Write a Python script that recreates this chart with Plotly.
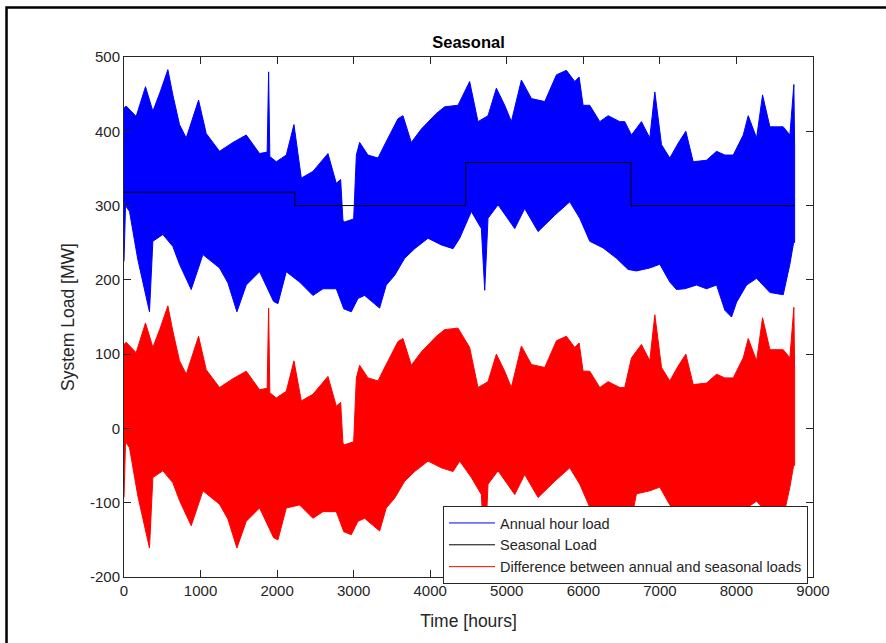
import numpy as np
import plotly.graph_objects as go

# Annual hourly load, upper envelope (hour, MW)
upper_hours = [0, 28, 159, 281, 377, 473, 573, 638, 725, 813, 974, 1074, 1248, 1423, 1597,
               1771, 1870, 1889, 1905, 1989, 2120, 2220, 2316, 2468, 2664, 2773, 2830, 2860,
               2882, 3000, 3035, 3078, 3187, 3318, 3400, 3579, 3644, 3753, 3884, 4080, 4189,
               4363, 4515, 4624, 4755, 4864, 4973, 5060, 5191, 5322, 5496, 5649, 5779, 5888,
               5945, 5997, 6084, 6215, 6324, 6476, 6541, 6629, 6759, 6868, 6934, 7021, 7130,
               7239, 7339, 7435, 7609, 7740, 7849, 7958, 8089, 8154, 8263, 8341, 8437, 8611,
               8698, 8750, 8760]
upper_vals = [431, 434, 420, 460, 427, 453, 483, 449, 409, 391, 442, 397, 373, 385, 395,
              370, 372, 480, 366, 359, 368, 409, 337, 346, 370, 330, 335, 280,
              278, 282, 368, 385, 368, 364, 381, 417, 421, 385, 403, 424, 433,
              435, 467, 413, 421, 458, 435, 413, 469, 444, 440, 476, 482, 467,
              473, 435, 435, 413, 421, 413, 413, 395, 413, 391, 453, 382, 364,
              384, 400, 359, 361, 373, 368, 368, 395, 421, 391, 449, 406, 406,
              395, 463, 380]

# Annual hourly load, lower envelope (hour, MW)
lower_hours = [0, 20, 72, 181, 333, 377, 508, 638, 725, 878, 1031, 1248, 1357, 1475, 1597,
               1771, 1954, 2011, 2120, 2294, 2468, 2599, 2773, 2871, 2969, 3056, 3143, 3339,
               3426, 3535, 3666, 3797, 3971, 4146, 4298, 4385, 4537, 4668, 4712, 4755, 4886,
               5104, 5234, 5409, 5627, 5823, 5953, 6084, 6258, 6433, 6585, 6694, 6868, 6999,
               7130, 7217, 7326, 7478, 7609, 7740, 7849, 7936, 8002, 8132, 8263, 8437, 8611,
               8698, 8750, 8760]
lower_vals = [225, 300, 292, 227, 157, 252, 261, 245, 221, 187, 234, 216, 196, 157, 193,
              211, 171, 168, 211, 197, 179, 188, 188, 161, 157, 175, 179, 162,
              193, 206, 229, 242, 256, 247, 242, 256, 292, 269, 186, 283, 301,
              269, 296, 265, 287, 305, 283, 252, 243, 229, 214, 212, 216, 221,
              197, 187, 188, 193, 188, 193, 159, 150, 170, 193, 202, 183, 180,
              221, 252, 250]

# Seasonal load (step levels)
season_bounds = [0, 2232, 4464, 6624, 8760]
season_levels = [318, 300, 358, 300, 300]

x_ticks = list(range(0, 9001, 1000))
y_ticks = list(range(-200, 501, 100))


def seasonal_at(h):
    h = np.asarray(h, dtype=float)
    idx = np.searchsorted(season_bounds[1:-1], h, side="right")
    return np.asarray(season_levels)[idx]


uh = np.array(upper_hours, float)
uv = np.array(upper_vals, float)
lh = np.array(lower_hours, float)
lv = np.array(lower_vals, float)

blue_x = np.concatenate([uh, lh[::-1]])
blue_y = np.concatenate([uv, lv[::-1]])
red_y = np.concatenate([uv - seasonal_at(uh), (lv - seasonal_at(lh))[::-1]])

font = "Liberation Sans, Arial, Helvetica, sans-serif"
axc = "#262626"

fig = go.Figure()
fig.add_trace(go.Scatter(x=blue_x, y=blue_y, mode="lines", fill="toself",
                         fillcolor="#0000ff", line=dict(color="#0000ff", width=1),
                         showlegend=False, hoverinfo="skip"))
fig.add_trace(go.Scatter(x=season_bounds, y=season_levels, mode="lines",
                         line=dict(color="#000000", width=1, shape="hv"),
                         showlegend=False))
fig.add_trace(go.Scatter(x=blue_x, y=red_y, mode="lines", fill="toself",
                         fillcolor="#ff0000", line=dict(color="#ff0000", width=1),
                         showlegend=False, hoverinfo="skip"))

# legend entries
for name, col in [("Annual hour load", "#0000ff"), ("Seasonal Load", "#000000"),
                  ("Difference between annual and seasonal loads", "#ff0000")]:
    fig.add_trace(go.Scatter(x=[None], y=[None], mode="lines", name=name,
                             line=dict(color=col, width=1)))

axis_common = dict(showline=True, linecolor=axc, linewidth=1, mirror="ticks",
                   ticks="inside", ticklen=7, tickcolor=axc, tickwidth=1,
                   showgrid=False, zeroline=False,
                   tickfont=dict(family=font, size=15, color=axc))

fig.update_xaxes(range=[0, 9000], tickvals=x_ticks, ticktext=[str(t) for t in x_ticks],
                 title=dict(text="Time [hours]", font=dict(family=font, size=17.5, color=axc),
                            standoff=16), **axis_common)
fig.update_yaxes(range=[-200, 500], tickvals=y_ticks, ticktext=[str(t) for t in y_ticks],
                 title=dict(text="System Load [MW]", font=dict(family=font, size=17.5, color=axc),
                            standoff=10), **axis_common)

fig.add_shape(type="rect", xref="paper", yref="paper",
              x0=-0.1705, x1=1.12, y0=-0.16, y1=1.0952,
              line=dict(color="#000000", width=2.5), fillcolor="rgba(0,0,0,0)")

fig.update_layout(
    width=886, height=643,
    margin=dict(l=124, r=73, t=57, b=66),
    paper_bgcolor="white", plot_bgcolor="white",
    title=dict(text="<b>Seasonal</b>", x=0.5, xref="paper", y=1 - 42 / 643,
               yref="container", yanchor="middle",
               font=dict(family=font, size=16.5, color="#000000")),
    legend=dict(x=0.463, y=0.1365, xanchor="left", yanchor="top",
                bgcolor="white", bordercolor=axc, borderwidth=1,
                itemwidth=46,
                font=dict(family=font, size=14.5, color=axc), tracegroupgap=0),
    showlegend=True,
)

fig.write_html("out.html")
